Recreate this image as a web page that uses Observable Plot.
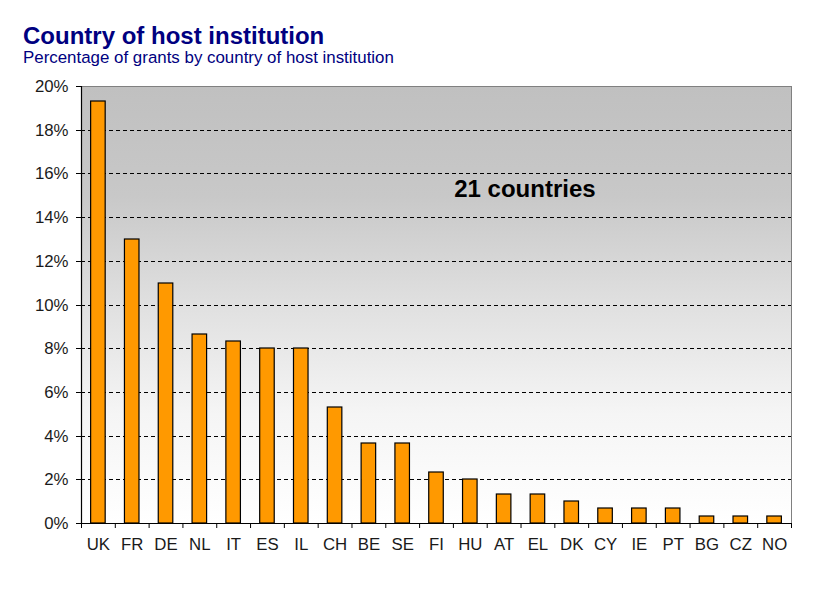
<!DOCTYPE html>
<html>
<head>
<meta charset="utf-8">
<script src="https://cdn.jsdelivr.net/npm/d3@7"></script>
<script src="https://cdn.jsdelivr.net/npm/@observablehq/plot@0.6"></script>
<style>
  html, body { margin: 0; padding: 0; background: #fff; }
  body { width: 817px; height: 606px; overflow: hidden; font-family: Arial, "Liberation Sans", sans-serif; }
  #header { position: relative; height: 70px; }
  #title { position: absolute; left: 23px; top: 24px; font-size: 24px; line-height: 24px; font-weight: bold; color: #000080; white-space: nowrap; }
  #subtitle { position: absolute; left: 23px; top: 49px; font-size: 16.9px; line-height: 17px; color: #000080; white-space: nowrap; }
  #chart svg { display: block; }
</style>
</head>
<body>
<div id="header">
  <div id="title">Country of host institution</div>
  <div id="subtitle">Percentage of grants by country of host institution</div>
</div>
<div id="chart"></div>
<script>
const countries = ["UK","FR","DE","NL","IT","ES","IL","CH","BE","SE","FI","HU","AT","EL","DK","CY","IE","PT","BG","CZ","NO"];
const shares = [19.33, 13.0, 11.0, 8.67, 8.33, 8.0, 8.0, 5.33, 3.67, 3.67, 2.33, 2.0, 1.33, 1.33, 1.0, 0.67, 0.67, 0.67, 0.33, 0.33, 0.33];
const yTicks = [0, 2, 4, 6, 8, 10, 12, 14, 16, 18, 20];
const gridValues = [2, 4, 6, 8, 10, 12, 14, 16, 18];
const annotation = [{label: "21 countries", x: "EL", y: 15.3}];

const data = countries.map((c, i) => ({country: c, share: shares[i]}));

const W = 817, H = 536, ML = 81, MR = 26, MT = 16, MB = 83;
const step = (W - ML - MR) / countries.length;
const first = countries[0], last = countries[countries.length - 1];

const plot = Plot.plot({
  width: W,
  height: H,
  marginLeft: ML,
  marginRight: MR,
  marginTop: MT,
  marginBottom: MB,
  style: {fontFamily: "Arial, 'Liberation Sans', sans-serif", fontSize: "16.8px", color: "#1a1a1a", background: "white"},
  x: {domain: countries, paddingInner: 0.57, paddingOuter: 0.285, round: false, label: null},
  y: {domain: [0, 20], round: true, label: null},
  marks: [
    Plot.frame({fill: "url(#bgGrad)", stroke: "#808080"}),
    Plot.ruleY(gridValues, {stroke: "black", strokeDasharray: "4,3", strokeWidth: 1, shapeRendering: "crispEdges"}),
    Plot.barY(data, {x: "country", y: "share", fill: "#ff9900", stroke: "black", strokeWidth: 1.2}),
    Plot.ruleY([0], {stroke: "black", strokeWidth: 1.2}),
    Plot.ruleX([first], {x: d => d, y1: 0, y2: 20, dx: -step / 2, stroke: "black", strokeWidth: 1.2}),
    Plot.ruleX(countries, {x: d => d, y1: 0, y2: 0, insetTop: 0, insetBottom: -5, dx: -step / 2, stroke: "black"}),
    Plot.ruleX([last], {x: d => d, y1: 0, y2: 0, insetTop: 0, insetBottom: -5, dx: step / 2, stroke: "black"}),
    Plot.axisY({ticks: yTicks, tickFormat: d => d + "%", tickSize: 5, tickPadding: 8, stroke: "black"}),
    Plot.axisX({tickSize: 0, tickPadding: 15}),
    Plot.text(annotation, {x: "x", y: "y", text: "label", dx: -13, fontSize: 24, fontWeight: "bold", fill: "black"})
  ]
});

plot.insertAdjacentHTML("afterbegin",
  '<defs><linearGradient id="bgGrad" x1="0" y1="0" x2="0" y2="1">' +
  '<stop offset="0" stop-color="#c0c0c0"/>' +
  '<stop offset="0.25" stop-color="#c8c8c8"/>' +
  '<stop offset="0.5" stop-color="#e0e0e0"/>' +
  '<stop offset="0.75" stop-color="#f5f5f5"/>' +
  '<stop offset="1" stop-color="#ffffff"/>' +
  '</linearGradient></defs>');

document.getElementById("chart").appendChild(plot);
</script>
</body>
</html>
